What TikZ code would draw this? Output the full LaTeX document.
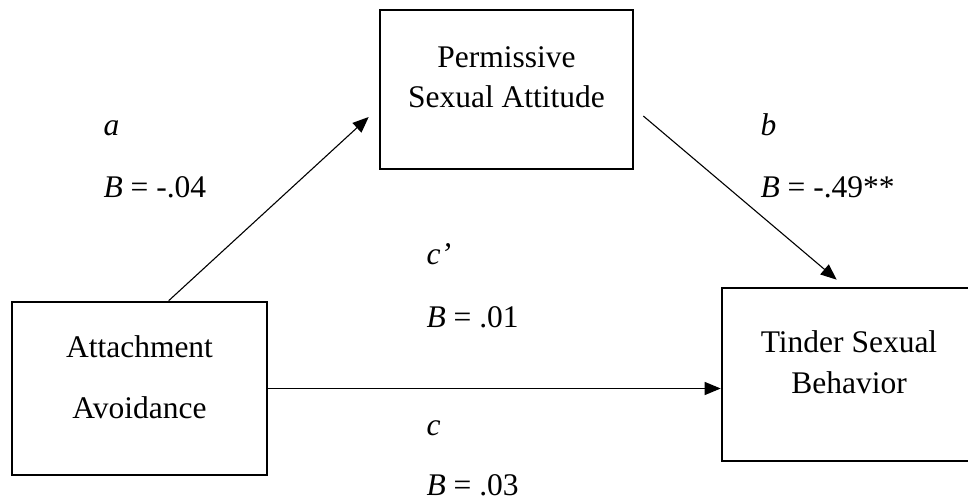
\documentclass[tikz,border=0pt]{standalone}
\usepackage{fontspec}
\setmainfont{Liberation Serif}
\usetikzlibrary{arrows.meta,calc}
\begin{document}
\begin{tikzpicture}[x=1pt,y=-1pt,
  every node/.style={font=\fontsize{31.5}{38}\selectfont},
  box/.style={draw,line width=2.6pt,inner sep=0pt},
  line/.style={anchor=base},
  lab/.style={anchor=base west},
  conn/.style={line width=1.1pt,-{Triangle[length=16pt,width=13pt]}}]
\useasboundingbox (0,0) rectangle (968,502);
\clip (0,0) rectangle (968,502);
% boxes
\node[box,minimum width=255pt,minimum height=173pt] (att) at (139.5,388.5) {};
\node[box,minimum width=253pt,minimum height=159pt] (perm) at (506.5,89.5) {};
\node[box,minimum width=254pt,minimum height=173pt] (tin) at (849,374.5) {};
% box texts
\node[line] (att1) at (139.5,357) {Attachment};
\node[line] (att2) at (139.5,418) {Avoidance};
\node[line] (perm1) at (506.5,68) {Permissive};
\node[line] (perm2) at (506.5,108) {Sexual Attitude};
\node[line] (tin1) at (849,352) {Tinder Sexual};
\node[line] (tin2) at (849,393) {Behavior};
% path labels
\node[lab] (la) at (100,136) {\textit{a}};
\node[lab] (lab1) at (100,198) {\textit{B} = -.04};
\node[lab] (lb) at (757,136) {\textit{b}};
\node[lab] (lbb) at (757,198) {\textit{B} = -.49**};
\node[lab] (lcp) at (423,265) {\textit{c’}};
\node[lab] (lcpb) at (423,327) {\textit{B} = .01};
\node[lab] (lc) at (423,435) {\textit{c}};
\node[lab] (lcb) at (423,495) {\textit{B} = .03};
% connectors
\coordinate (aS) at ($(att.north west)+(158,0)$);
\coordinate (aE) at ($(perm.west)+(-10,27.5)$);
\coordinate (bS) at ($(perm.east)+(9,26.5)$);
\coordinate (bE) at ($(tin.north west)+(116,-7)$);
\draw[conn] (aS) -- (aE);
\draw[conn] (bS) -- (bE);
\draw[conn] (att.east) -- (att.east -| tin.west);
\end{tikzpicture}
\end{document}
